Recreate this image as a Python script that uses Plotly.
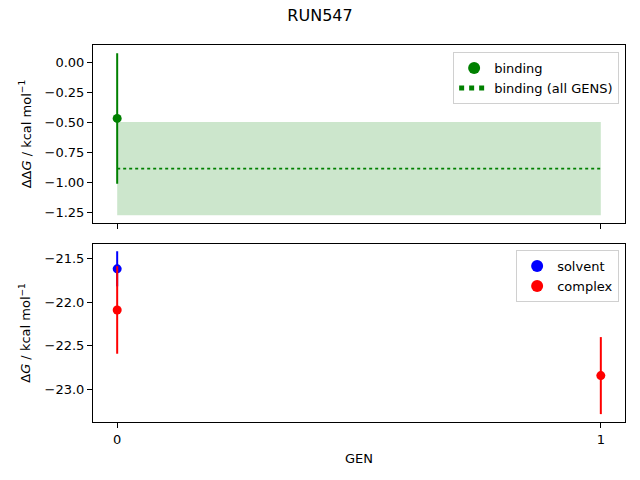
import plotly.graph_objects as go
from plotly.subplots import make_subplots

# top panel: binding free energy
binding_gen = [0]
binding_dg = [-0.465]
binding_err = [0.545]
all_gens = [0, 1]
binding_all = -0.885
binding_all_err = 0.39

# bottom panel: solvent / complex legs
solvent_gen = [0]
solvent_dg = [-21.62]
solvent_err = [0.20]
complex_gen = [0, 1]
complex_dg = [-22.09, -22.84]
complex_err = [0.50, 0.44]

top_ticks = [0.0, -0.25, -0.5, -0.75, -1.0, -1.25]
bottom_ticks = [-21.5, -22.0, -22.5, -23.0]

font = dict(family="DejaVu Sans", size=13, color="black")

fig = make_subplots(rows=2, cols=1, shared_xaxes=True, vertical_spacing=0.055)

# shaded band for all-gens estimate
band_x = all_gens + all_gens[::-1]
band_y = [binding_all + binding_all_err] * len(all_gens) + [binding_all - binding_all_err] * len(all_gens)
fig.add_trace(go.Scatter(x=band_x, y=band_y, fill="toself", mode="none",
                         fillcolor="rgba(0,128,0,0.2)", showlegend=False,
                         hoverinfo="skip"), row=1, col=1)
fig.add_trace(go.Scatter(x=binding_gen, y=binding_dg, mode="markers", name="binding",
                         marker=dict(color="green", size=9),
                         error_y=dict(type="data", array=binding_err, width=0,
                                      thickness=2, color="green"),
                         legend="legend"), row=1, col=1)
fig.add_trace(go.Scatter(x=all_gens, y=[binding_all] * len(all_gens), mode="lines",
                         name="binding (all GENS)",
                         line=dict(color="green", dash="dot", width=1.6),
                         legend="legend"), row=1, col=1)

fig.add_trace(go.Scatter(x=solvent_gen, y=solvent_dg, mode="markers", name="solvent",
                         marker=dict(color="blue", size=9),
                         error_y=dict(type="data", array=solvent_err, width=0,
                                      thickness=2, color="blue"),
                         legend="legend2"), row=2, col=1)
fig.add_trace(go.Scatter(x=complex_gen, y=complex_dg, mode="markers", name="complex",
                         marker=dict(color="red", size=9),
                         error_y=dict(type="data", array=complex_err, width=0,
                                      thickness=2, color="red"),
                         legend="legend2"), row=2, col=1)

axis_style = dict(showline=True, linecolor="black", linewidth=1, mirror=True,
                  ticks="outside", ticklen=5, tickcolor="black", showgrid=False,
                  zeroline=False, tickfont=font)

fig.update_xaxes(**axis_style, range=[-0.05, 1.05], tickvals=all_gens)
fig.update_xaxes(showticklabels=False, row=1, col=1)
fig.update_xaxes(title=dict(text="GEN", font=font, standoff=8), row=2, col=1)

fig.update_yaxes(**axis_style)
fig.update_yaxes(range=[-1.34, 0.148], tickvals=top_ticks, tickformat=".2f",
                 title=dict(text="ΔΔ<i>G</i> / kcal mol<sup>−1</sup>", font=font, standoff=10),
                 row=1, col=1)
fig.update_yaxes(range=[-23.37, -21.335], tickvals=bottom_ticks, tickformat=".1f",
                 title=dict(text="Δ<i>G</i> / kcal mol<sup>−1</sup>", font=font, standoff=10),
                 row=2, col=1)

legend_style = dict(xanchor="right", yanchor="top", bgcolor="white",
                    bordercolor="#d0d0d0", borderwidth=1, font=font,
                    itemsizing="constant", tracegroupgap=0)
fig.update_layout(
    width=640, height=480,
    paper_bgcolor="white", plot_bgcolor="white",
    margin=dict(l=93, r=15, t=45, b=58),
    title=dict(text="RUN547", x=0.5, xref="container", xanchor="center",
               y=0.967, yanchor="middle", font=dict(family="DejaVu Sans", size=16, color="black")),
    font=font,
    legend=dict(x=0.989, y=0.981, **legend_style),
    legend2=dict(x=0.989, y=0.456, **legend_style),
)

fig.write_html("out.html", config={"displayModeBar": False},
               post_script="document.body.style.margin='0';")
